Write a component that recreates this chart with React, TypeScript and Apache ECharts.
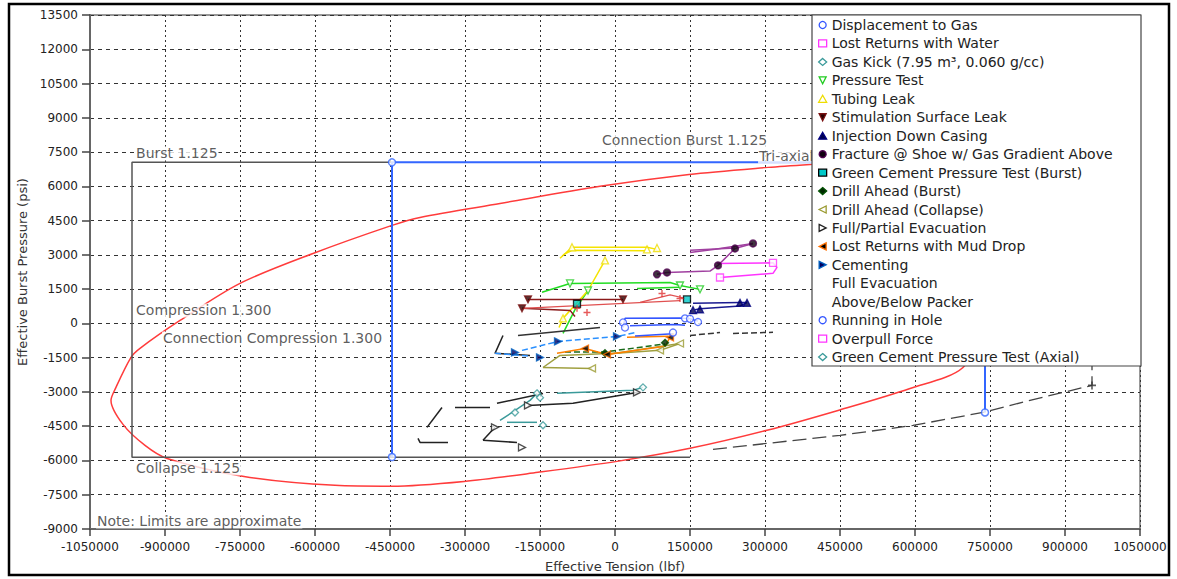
import React, { useEffect, useRef } from 'react';
import * as echarts from 'echarts';

// ---------- axes ----------
const X_MIN = -1050000;
const X_MAX = 1050000;
const X_STEP = 150000;
const Y_MIN = -9000;
const Y_MAX = 13500;
const Y_STEP = 1500;

// ---------- limit curves ----------
const triaxialEnvelope = [
  [390000, 6960], [306000, 6830], [148000, 6520], [-30000, 6000], [-230000, 5250],
  [-390000, 4640], [-446000, 4290], [-604000, 3060], [-750000, 1750], [-870000, 130],
  [-950000, -1090], [-968000, -1490], [-1000000, -2890], [-1008000, -3370], [-984000, -4420],
  [-940000, -5340], [-896000, -5910], [-742000, -6700], [-560000, -7090], [-446000, -7130],
  [-302000, -6920], [-154000, -6520], [4000, -6040], [150000, -5470], [304000, -4680],
  [446000, -3810], [590000, -2850], [696000, -1930], [740000, 130], [760000, 2320],
  [750000, 4290], [700000, 5820], [610000, 6700], [510000, 7050], [390000, 6960],
];
const apiLimits = [
  [-446000, 7050], [-966000, 7050], [-966000, -5860], [150000, -5860],
];
const apiLimitsRight = [
  [196000, -5515], [450000, -4900], [596000, -4465], [736000, -3896],
  [830000, -3370], [954000, -2714], [954000, 7050],
];
const connectionLimits = [
  [-446000, -5850], [-446000, 7050], [740000, 7050], [740000, -3900],
];
const connectionCorners = [[-446000, -5850], [-446000, 7050], [740000, -3900]];

const annotations = [
  { name: 'Burst 1.125', value: [-960000, 7440] },
  { name: 'Connection Burst 1.125', value: [-28000, 8010] },
  { name: 'Tri-axial', value: [286000, 7310] },
  { name: 'Compression 1.300', value: [-960000, 570] },
  { name: 'Connection Compression 1.300', value: [-906000, -657] },
  { name: 'Collapse 1.125', value: [-960000, -6350] },
  { name: 'Note: Limits are approximate', value: [-1038000, -8670] },
];

// ---------- load cases ----------
const displacementLines = [
  [[16000, -180], [20000, 220], [130000, 240], [140000, 220], [150000, 200], [166000, 100]],
  [[30000, -100], [120000, -50], [140000, -80]],
];
const displacementMarks = [[16000, 40], [20000, -180], [140000, 220], [150000, 200], [166000, 60]];

const lostWaterLines = [
  [[204000, 2620], [316000, 2650], [324000, 2450], [316000, 2190], [210000, 2010]],
];
const lostWaterMarks = [[316000, 2650], [210000, 2010]];

const gasKickLines = [
  [[-230000, -4250], [-170000, -3370], [-156000, -3060]],
  [[-216000, -4330], [-156000, -4330]],
];
const gasKickMarks = [[-156000, -3060], [-144000, -4460], [-200000, -3900]];

const pressureTestLines = [
  [[-146000, 1360], [-90000, 1750], [110000, 1790], [130000, 1660], [170000, 1490]],
  [[44000, 1530], [130000, 1580]],
  [[-54000, 1440], [-80000, 600], [-104000, -440]],
];
const pressureTestMarks = [[-90000, 1750], [-54000, 1440], [130000, 1660], [170000, 1490]];

const tubingLeakLines = [
  [[-110000, 2850], [-86000, 3330], [64000, 3330], [84000, 3240]],
  [[-104000, 3000], [-86000, 3200], [60000, 3180]],
  [[-20000, 2760], [-54000, 1440], [-104000, 220], [-112000, -180]],
];
const tubingLeakMarks = [[-86000, 3330], [64000, 3240], [84000, 3300], [-20000, 2760], [-104000, 220]];

const stimulationLines = [
  [[-174000, 1050], [16000, 1050]],
  [[-186000, 660], [-90000, 570], [-80000, 300]],
];
const stimulationLightLines = [
  [[-186000, 660], [130000, 1000]],
  [[50000, 920], [110000, 1250], [140000, 1100]],
];
const stimulationMarks = [[-174000, 1050], [-186000, 660], [16000, 1050]];
const stimulationPlus = [[94000, 1310], [130000, 1090], [-76000, 660], [-56000, 480]];

const injectionLines = [
  [[156000, 880], [250000, 920], [264000, 910]],
  [[160000, 600], [170000, 640], [250000, 760], [264000, 920]],
];
const injectionMarks = [[156000, 580], [170000, 620], [250000, 900], [264000, 900]];

const fractureLines = [
  [[84000, 2150], [104000, 2230], [190000, 2290], [206000, 2540], [240000, 3280], [276000, 3500]],
  [[150000, 3100], [200000, 3250], [276000, 3500]],
  [[150000, 3200], [240000, 3300]],
];
const fractureMarks = [[84000, 2150], [104000, 2230], [206000, 2540], [240000, 3280], [276000, 3500]];

const greenCementBurstMarks = [[144000, 1050], [-76000, 860]];

const drillBurstLines = [[[-100000, -1250], [-20000, -1250], [100000, -900]]];
const drillBurstMarks = [[-20000, -1300], [100000, -850]];

const drillCollapseLines = [
  [[-144000, -1930], [-46000, -1970]],
  [[-144000, -1930], [-110000, -1400], [10000, -1300], [90000, -1180], [130000, -880]],
  [[-16000, -1360], [130000, -880]],
];
const drillCollapseMarks = [[-46000, -1970], [90000, -1180], [130000, -880]];

const evacuationLines = [
  [[-224000, -530], [-240000, -1310], [-170000, -1400]],
  [[-346000, -3680], [-376000, -4550]],
  [[-320000, -3680], [-250000, -3680]],
  [[-236000, -3500], [-144000, -3070]],
  [[-174000, -3590], [-84000, -3500], [44000, -3020]],
  [[-264000, -5120], [-240000, -4550]],
  [[-264000, -5120], [-196000, -5210]],
  [[-394000, -5030], [-390000, -5210], [-334000, -5210]],
];
const evacuationMarks = [[-174000, -3590], [-240000, -4550], [-186000, -5430], [44000, -3020]];

const mudDropLines = [
  [[-116000, -1310], [-60000, -1100], [-16000, -1360], [100000, -1000], [110000, -610]],
  [[24000, -610], [106000, -560]],
];
const mudDropMarks = [[-60000, -1100], [-16000, -1360], [110000, -610]];

const cementingLines = [
  [[-186000, -1180], [-114000, -790], [4000, -570], [44000, -390]],
  [[-240000, -1310], [-170000, -1440]],
];
const cementingMarks = [[-200000, -1270], [-114000, -790], [4000, -570], [-150000, -1490]];

const fullEvacuationLines = [
  [[150000, -530], [210000, -400]],
  [[236000, -440], [316000, -390]],
];
const packerLines = [[[-194000, -530], [-30000, -175]]];

const runningLines = [[[40000, -550], [116000, -450]]];
const runningMarks = [[116000, -400]];

const gcAxialLines = [[[-116000, -3060], [36000, -2930], [56000, -2800]]];
const gcAxialMarks = [[56000, -2800], [-150000, -3250]];

const legendNames = [
  'Displacement to Gas',
  'Lost Returns with Water',
  'Gas Kick (7.95 m³, 0.060 g/cc)',
  'Pressure Test',
  'Tubing Leak',
  'Stimulation Surface Leak',
  'Injection Down Casing',
  'Fracture @ Shoe w/ Gas Gradient Above',
  'Green Cement Pressure Test (Burst)',
  'Drill Ahead (Burst)',
  'Drill Ahead (Collapse)',
  'Full/Partial Evacuation',
  'Lost Returns with Mud Drop',
  'Cementing',
  'Full Evacuation',
  'Above/Below Packer',
  'Running in Hole',
  'Overpull Force',
  'Green Cement Pressure Test (Axial)',
];

const DOWN = 'path://M0,0L10,0L5,10Z';
const LEFT = 'path://M10,0L10,10L0,5Z';
const RIGHT = 'path://M0,0L10,5L0,10Z';
const PLUS = 'path://M4,0H6V4H10V6H6V10H4V6H0V4H4Z';

type Sty = { line: string; type?: string; symbol: string; fill: string; border: string; hidden?: boolean };
const styles: Record<string, Sty> = {
  'Displacement to Gas': { line: '#3355ff', symbol: 'circle', fill: '#ffffff', border: '#3355ff' },
  'Lost Returns with Water': { line: '#ff33ff', symbol: 'rect', fill: '#ffffff', border: '#ff33ff' },
  'Gas Kick (7.95 m³, 0.060 g/cc)': { line: '#3a9a9a', symbol: 'diamond', fill: '#ffffff', border: '#3a9a9a' },
  'Pressure Test': { line: '#22dd22', symbol: DOWN, fill: '#ffffff', border: '#22cc22' },
  'Tubing Leak': { line: '#f5e400', symbol: 'triangle', fill: '#ffffff', border: '#eedd00' },
  'Stimulation Surface Leak': { line: '#8b1a1a', symbol: DOWN, fill: '#2a0000', border: '#7a1010' },
  'Injection Down Casing': { line: '#1a1a90', symbol: 'triangle', fill: '#000050', border: '#000080' },
  'Fracture @ Shoe w/ Gas Gradient Above': { line: '#a040a0', symbol: 'circle', fill: '#100010', border: '#500050' },
  'Green Cement Pressure Test (Burst)': { line: '#00b0b0', symbol: 'rect', fill: '#00c8c8', border: '#000000' },
  'Drill Ahead (Burst)': { line: '#1a6a1a', type: 'dashed', symbol: 'diamond', fill: '#002800', border: '#005000' },
  'Drill Ahead (Collapse)': { line: '#a0a040', symbol: LEFT, fill: '#ffffff', border: '#9a9a30' },
  'Full/Partial Evacuation': { line: '#222222', symbol: RIGHT, fill: '#ffffff', border: '#222222' },
  'Lost Returns with Mud Drop': { line: '#ff8000', symbol: LEFT, fill: '#000000', border: '#ff7000' },
  'Cementing': { line: '#2a90ff', type: 'dashed', symbol: RIGHT, fill: '#000060', border: '#0060c0' },
  'Full Evacuation': { line: '#333333', type: 'dashed', symbol: 'circle', fill: '#ffffff', border: '#ffffff', hidden: true },
  'Above/Below Packer': { line: '#333333', symbol: 'circle', fill: '#ffffff', border: '#ffffff', hidden: true },
  'Running in Hole': { line: '#3355ff', symbol: 'circle', fill: '#ffffff', border: '#3355ff' },
  'Overpull Force': { line: '#ff33ff', symbol: 'rect', fill: '#ffffff', border: '#ff33ff' },
  'Green Cement Pressure Test (Axial)': { line: '#3a9a9a', symbol: 'diamond', fill: '#ffffff', border: '#3a9a9a' },
};

const groups: [string, number[][][], number[][]][] = [
  ['Displacement to Gas', displacementLines, displacementMarks],
  ['Lost Returns with Water', lostWaterLines, lostWaterMarks],
  ['Gas Kick (7.95 m³, 0.060 g/cc)', gasKickLines, gasKickMarks],
  ['Pressure Test', pressureTestLines, pressureTestMarks],
  ['Tubing Leak', tubingLeakLines, tubingLeakMarks],
  ['Stimulation Surface Leak', stimulationLines, stimulationMarks],
  ['Injection Down Casing', injectionLines, injectionMarks],
  ['Fracture @ Shoe w/ Gas Gradient Above', fractureLines, fractureMarks],
  ['Green Cement Pressure Test (Burst)', [], greenCementBurstMarks],
  ['Drill Ahead (Burst)', drillBurstLines, drillBurstMarks],
  ['Drill Ahead (Collapse)', drillCollapseLines, drillCollapseMarks],
  ['Full/Partial Evacuation', evacuationLines, evacuationMarks],
  ['Lost Returns with Mud Drop', mudDropLines, mudDropMarks],
  ['Cementing', cementingLines, cementingMarks],
  ['Full Evacuation', fullEvacuationLines, []],
  ['Above/Below Packer', packerLines, []],
  ['Running in Hole', runningLines, runningMarks],
  ['Overpull Force', [], []],
  ['Green Cement Pressure Test (Axial)', gcAxialLines, gcAxialMarks],
];

const FONT = 'DejaVu Sans';

function buildOption() {
  const series: any[] = [];
  series.push({
    type: 'line', name: 'Tri-axial', data: triaxialEnvelope, smooth: 0.3, symbol: 'none',
    lineStyle: { color: '#ff3b3b', width: 1.5 }, z: 2, silent: true,
  });
  series.push({
    type: 'line', name: 'API', data: apiLimits, symbol: 'none',
    lineStyle: { color: '#555555', width: 1.5 }, z: 2, silent: true,
  });
  series.push({
    type: 'line', name: 'API R', data: apiLimitsRight, symbol: 'none',
    lineStyle: { color: '#444444', width: 1.3, type: [14, 6] }, z: 2, silent: true,
  });
  series.push({
    type: 'scatter', name: 'API plus', data: [[954000, -2714]], symbol: PLUS, symbolSize: 8,
    itemStyle: { color: '#333' }, z: 3, silent: true,
  });
  series.push({
    type: 'line', name: 'Connection', data: connectionLimits, symbol: 'none',
    lineStyle: { color: '#3366ff', width: 2 }, z: 2, silent: true,
  });
  series.push({
    type: 'scatter', name: 'Connection pts', data: connectionCorners, symbol: 'circle', symbolSize: 7,
    itemStyle: { color: '#ffffff', borderColor: '#3366ff', borderWidth: 1.5 }, z: 3, silent: true,
  });

  for (const [name, lines, marks] of groups) {
    const s = styles[name];
    for (const pl of lines) {
      series.push({
        type: 'line', name, data: pl, symbol: 'none', showSymbol: false,
        lineStyle: { color: s.line, width: 1.5, type: s.type || 'solid' },
        itemStyle: { color: s.line }, z: 3, silent: true,
      });
    }
    series.push({
      type: 'scatter', name, data: marks, symbol: s.symbol, symbolSize: 7,
      itemStyle: { color: s.fill, borderColor: s.border, borderWidth: 1.3 }, z: 4, silent: true,
    });
  }
  for (const pl of stimulationLightLines) {
    series.push({
      type: 'line', name: 'Stimulation Surface Leak', data: pl, symbol: 'none',
      lineStyle: { color: '#e05050', width: 1.2 }, z: 3, silent: true,
    });
  }
  series.push({
    type: 'scatter', name: 'Stimulation Surface Leak', data: stimulationPlus, symbol: PLUS, symbolSize: 7,
    itemStyle: { color: '#e03030' }, z: 4, silent: true,
  });

  series.push({
    type: 'scatter', name: 'labels', data: annotations, symbolSize: 0.1,
    itemStyle: { color: 'transparent' }, z: 5, silent: true,
    label: {
      show: true, position: 'right', distance: 0, formatter: '{b}',
      fontFamily: FONT, fontSize: 14, color: '#333', backgroundColor: '#ffffff', padding: [0, 1],
    },
  });

  const legendData = legendNames.map((n) => {
    const s = styles[n];
    return {
      name: n, icon: s.symbol,
      itemStyle: { color: s.fill, borderColor: s.border, borderWidth: 1.3, opacity: s.hidden ? 0 : 1 },
    };
  });

  const plain = (v: number) => String(v);

  return {
    animation: false,
    backgroundColor: '#ffffff',
    grid: { left: 90, right: 37, top: 15, bottom: 50, show: true, borderColor: '#777', borderWidth: 1.5 },
    xAxis: {
      type: 'value', min: X_MIN, max: X_MAX, interval: X_STEP,
      name: 'Effective Tension (lbf)', nameLocation: 'middle', nameGap: 31,
      nameTextStyle: { fontFamily: FONT, fontSize: 13, color: '#333' },
      axisLine: { show: true, onZero: false, lineStyle: { color: '#666', width: 2 } },
      axisTick: { show: true, length: 7, lineStyle: { color: '#444', width: 1.5 } },
      axisLabel: { fontFamily: FONT, fontSize: 12, color: '#222', margin: 12, formatter: plain },
      splitLine: { show: true, lineStyle: { color: '#333', width: 1, type: [2, 3] } },
    },
    yAxis: {
      type: 'value', min: Y_MIN, max: Y_MAX, interval: Y_STEP,
      name: 'Effective Burst Pressure (psi)', nameLocation: 'middle', nameGap: 60, nameRotate: 90,
      nameTextStyle: { fontFamily: FONT, fontSize: 13, color: '#333' },
      axisLine: { show: true, onZero: false, lineStyle: { color: '#666', width: 2 } },
      axisTick: { show: true, length: 8, lineStyle: { color: '#444', width: 1.5 } },
      axisLabel: { fontFamily: FONT, fontSize: 12, color: '#222', margin: 12, formatter: plain },
      splitLine: { show: true, lineStyle: { color: '#333', width: 1, type: [4, 4] } },
    },
    legend: {
      data: legendData, orient: 'vertical', left: 812, top: 15, z: 20,
      padding: [3, 6, 2, 6], itemWidth: 8, itemHeight: 7, itemGap: 4.45,
      selectedMode: false,
      textStyle: { fontFamily: FONT, fontSize: 14, color: '#222', lineHeight: 14 },
    },
    graphic: [
      {
        type: 'rect', z: 10, silent: true,
        shape: { x: 812, y: 15, width: 329, height: 351 },
        style: { fill: '#ffffff', stroke: '#444', lineWidth: 1.2 },
      },
      {
        type: 'rect', z: 30, silent: true,
        shape: { x: 9, y: 4, width: 1160, height: 571 },
        style: { fill: 'none', stroke: '#000', lineWidth: 2.5 },
      },
    ],
    series,
  };
}

export default function App() {
  const ref = useRef<HTMLDivElement>(null);
  useEffect(() => {
    if (!ref.current) return;
    const chart = echarts.init(ref.current, undefined, { renderer: 'svg' });
    chart.setOption(buildOption() as any);
    return () => chart.dispose();
  }, []);
  return (
    <div
      ref={ref}
      style={{ position: 'fixed', left: 0, top: 0, width: 1177, height: 579, background: '#fff' }}
    />
  );
}
